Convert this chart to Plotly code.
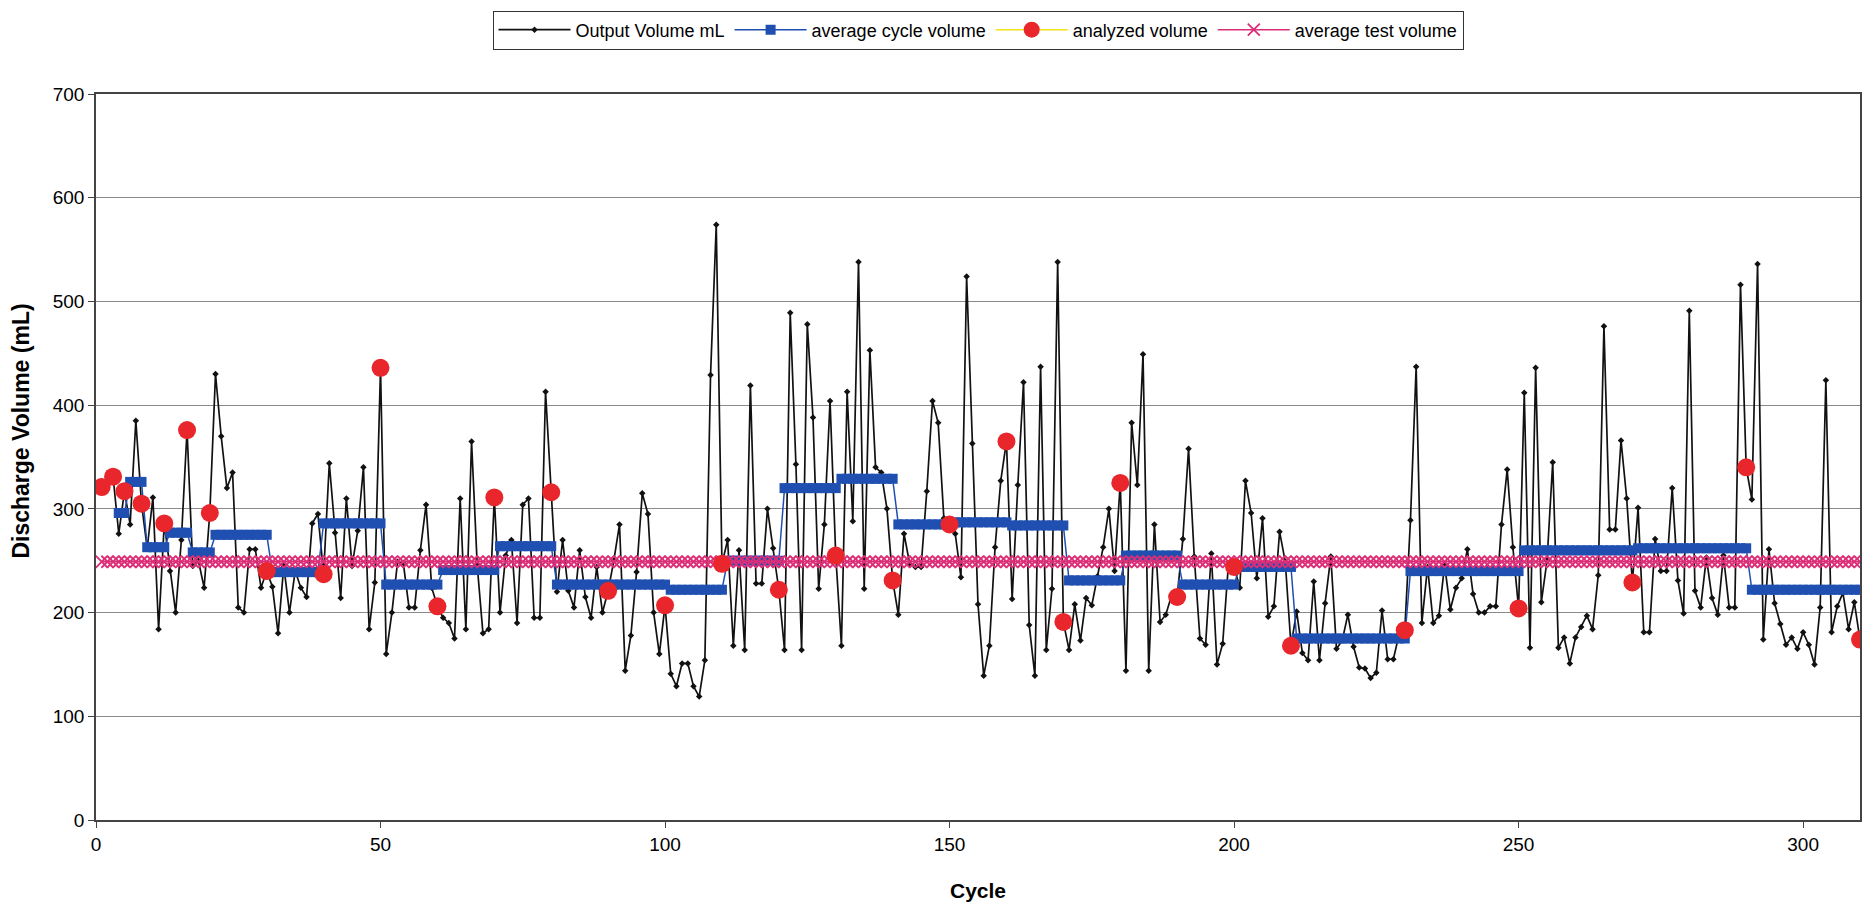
import plotly.graph_objects as go

# ---------------- data ----------------
cycles = list(range(1, 311))

output_volume = [
    321, 326, 331, 276, 317, 285, 385, 305, 262, 311,   # 1-10
    184, 286, 240, 200, 270, 376, 245, 250, 224, 296,   # 11-20
    430, 370, 320, 335, 205, 200, 261, 261, 224, 240,   # 21-30
    225, 180, 245, 200, 240, 224, 215, 286, 295, 237,   # 31-40
    344, 277, 214, 310, 245, 279, 340, 184, 229, 436,   # 41-50
    160, 200, 249, 248, 205, 205, 260, 304, 224, 206,   # 51-60
    195, 190, 175, 310, 184, 365, 245, 180, 184, 311,   # 61-70
    200, 255, 270, 190, 304, 310, 195, 195, 413, 316,   # 71-80
    220, 270, 221, 205, 260, 215, 195, 244, 200, 221,   # 81-90
    250, 285, 144, 178, 239, 315, 295, 200, 160, 207,   # 91-100
    141, 129, 151, 151, 129, 119, 154, 429, 574, 247,   # 101-110
    270, 168, 260, 164, 419, 228, 228, 300, 262, 222,   # 111-120
    164, 489, 343, 164, 478, 388, 223, 285, 404, 255,   # 121-130
    168, 413, 288, 538, 223, 453, 340, 335, 300, 231,   # 131-140
    198, 276, 247, 244, 244, 317, 404, 383, 291, 285,   # 141-150
    276, 234, 524, 363, 208, 139, 168, 263, 327, 365,   # 151-160
    213, 323, 422, 188, 139, 437, 164, 223, 538, 191,   # 161-170
    164, 208, 173, 214, 207, 235, 263, 300, 240, 325,   # 171-180
    144, 383, 323, 449, 144, 285, 191, 198, 216, 215,   # 181-190
    271, 358, 254, 175, 169, 257, 150, 170, 246, 244,   # 191-200
    224, 327, 296, 233, 291, 196, 206, 278, 249, 168,   # 201-210
    201, 161, 154, 230, 154, 209, 254, 165, 173, 198,   # 211-220
    167, 147, 146, 137, 142, 202, 155, 155, 179, 183,   # 221-230
    289, 437, 190, 244, 190, 197, 246, 203, 224, 233,   # 231-240
    261, 218, 200, 200, 206, 206, 285, 338, 263, 204,   # 241-250
    412, 166, 436, 210, 250, 345, 166, 176, 151, 176,   # 251-260
    186, 197, 184, 236, 476, 280, 280, 366, 310, 229,   # 261-270
    301, 181, 181, 271, 240, 240, 320, 231, 199, 491,   # 271-280
    221, 205, 253, 214, 198, 255, 205, 205, 516, 340,   # 281-290
    309, 536, 174, 261, 209, 189, 169, 176, 165, 181,   # 291-300
    169, 150, 205, 424, 181, 206, 219, 184, 210, 174,   # 301-310
]

# average cycle volume: (first cycle, last cycle, average)
avg_seg_start = [4, 6, 9, 13, 17, 21, 31, 40, 51, 61, 71, 81, 101, 111, 121, 131,
                 141, 151, 161, 171, 181, 191, 201, 211, 231, 251, 271, 291]
avg_seg_end = [5, 8, 12, 16, 20, 30, 39, 50, 60, 70, 80, 100, 110, 120, 130, 140,
               150, 160, 170, 180, 190, 200, 210, 230, 250, 270, 290, 310]
avg_seg_value = [296, 326, 263, 277, 258, 275, 239, 286, 227, 241, 264, 227, 222, 250, 320, 329,
                 285, 287, 284, 231, 255, 227, 244, 175, 240, 260, 262, 222]

analyzed_cycles = [1, 3, 5, 8, 12, 16, 20, 30, 40, 50, 60, 70, 80, 90, 100, 110, 120,
                   130, 140, 150, 160, 170, 180, 190, 200, 210, 230, 250, 270, 290, 310]
analyzed_values = [321, 331, 317, 305, 286, 376, 296, 240, 237, 436, 206, 311, 316, 221, 207, 247, 222,
                   255, 231, 285, 365, 191, 325, 215, 244, 168, 183, 204, 229, 340, 174]

average_test_volume = 249

# ---------------- build series ----------------
avg_x, avg_y = [], []
for s, e, v in zip(avg_seg_start, avg_seg_end, avg_seg_value):
    for c in range(s, e + 1):
        avg_x.append(c)
        avg_y.append(v)

an_x, an_y = [], []
for c, v in zip(analyzed_cycles, analyzed_values):
    an_x += [c, None]
    an_y += [v, None]

test_x = cycles
test_y = [average_test_volume for _ in cycles]

FONT = "Liberation Sans, Arial, sans-serif"

fig = go.Figure()
fig.add_trace(go.Scatter(
    x=cycles, y=output_volume, name="Output Volume mL", mode="lines+markers",
    line=dict(color="#111111", width=1.7),
    marker=dict(symbol="diamond", size=5, color="#111111"),
    legendrank=1,
))
fig.add_trace(go.Scatter(
    x=avg_x, y=avg_y, name="average cycle volume", mode="lines+markers",
    line=dict(color="#1f4fb0", width=1.5),
    marker=dict(symbol="square", size=10, color="#1f4fb0"),
    legendrank=2,
))
fig.add_trace(go.Scatter(
    x=test_x, y=test_y, name="average test volume", mode="lines+markers",
    line=dict(color="#dc2f78", width=1.5),
    marker=dict(symbol="x-thin", size=12, color="#dc2f78",
                line=dict(color="#dc2f78", width=1.8)),
    legendrank=4,
))
fig.add_trace(go.Scatter(
    x=an_x, y=an_y, name="analyzed volume", mode="lines+markers", connectgaps=False,
    line=dict(color="#f2e21a", width=1.5),
    marker=dict(symbol="circle", size=18, color="#e8262b"),
    legendrank=3,
))

fig.update_layout(
    width=1873, height=912,
    margin=dict(l=96, r=11, t=92, b=92),
    paper_bgcolor="white", plot_bgcolor="white",
    font=dict(family=FONT, size=19, color="black"),
    showlegend=True,
    legend=dict(
        orientation="h", x=0.5, xanchor="center", y=1.115, yanchor="top",
        bordercolor="#333333", borderwidth=1, font=dict(size=18),
        traceorder="normal", itemwidth=72,
    ),
    xaxis=dict(
        range=[0, 310], dtick=50, tick0=0, showgrid=False, zeroline=False,
        showline=True, linecolor="#444444", linewidth=1.5, mirror=True,
        ticks="outside", ticklen=6, tickcolor="#444444",
        title=dict(text="<b>Cycle</b>", standoff=30, font=dict(size=21)),
    ),
    yaxis=dict(
        range=[0, 700], dtick=100, tick0=0, showgrid=True, gridcolor="#8a8a8a", gridwidth=1,
        zeroline=False, showline=True, linecolor="#444444", linewidth=1.5, mirror=True,
        ticks="outside", ticklen=6, tickcolor="#444444",
    ),
    annotations=[dict(
        text="<b>Discharge Volume (mL)</b>", textangle=-90,
        xref="paper", x=0, xanchor="center", xshift=-75,
        yref="paper", y=0.535, yanchor="middle",
        showarrow=False, font=dict(size=23),
    )],
)

fig.write_html("out.html")
